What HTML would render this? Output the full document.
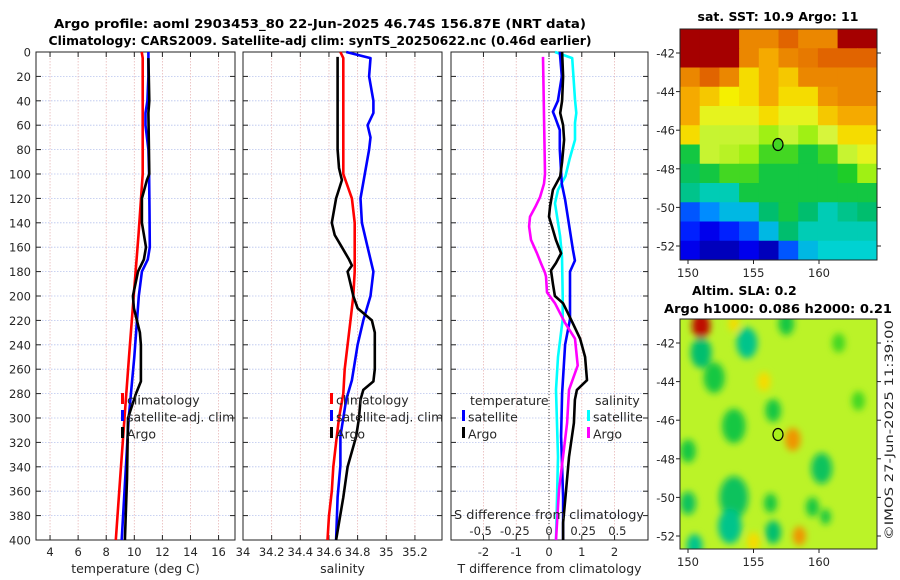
<!DOCTYPE html>
<html><head><meta charset="utf-8"><style>
html,body{margin:0;padding:0;background:#fff;}
svg{display:block;font-family:"DejaVu Sans","Liberation Sans",sans-serif;}
</style></head><body>
<svg id="fig" width="900" height="580" viewBox="0 0 900 580" xmlns="http://www.w3.org/2000/svg">
<defs>
<filter id="blur" x="-50%" y="-50%" width="200%" height="200%"><feGaussianBlur stdDeviation="3.5"/></filter>
<clipPath id="clipMap2"><rect x="680" y="319" width="197" height="230"/></clipPath>
</defs>
<text x="320" y="28" text-anchor="middle" font-size="12.5" font-weight="bold" textLength="532" lengthAdjust="spacingAndGlyphs">Argo profile: aoml 2903453_80 22-Jun-2025 46.74S 156.87E (NRT data)</text>
<text x="320" y="45" text-anchor="middle" font-size="12.5" font-weight="bold" textLength="543" lengthAdjust="spacingAndGlyphs">Climatology: CARS2009. Satellite-adj clim: synTS_20250622.nc (0.46d earlier)</text>
<g id="g1"></g>
<g id="g2"></g>
<g id="g3"></g>
<g id="m1"></g>
<g id="m2"></g>
<text x="778" y="21" text-anchor="middle" font-size="12.5" font-weight="bold">sat. SST: 10.9 Argo: 11</text>
<text x="692" y="295" font-size="12.5" font-weight="bold">Altim. SLA: 0.2</text>
<text x="778" y="313" text-anchor="middle" font-size="12.5" font-weight="bold" textLength="228" lengthAdjust="spacingAndGlyphs">Argo h1000: 0.086 h2000: 0.21</text>
<text transform="translate(893,430) rotate(-90)" text-anchor="middle" font-size="11.5" fill="#262626" textLength="220" lengthAdjust="spacingAndGlyphs">©IMOS 27-Jun-2025 11:39:00</text>
</svg>
<script>
// ---- data ----
const depthTicks=[0,20,40,60,80,100,120,140,160,180,200,220,240,260,280,300,320,340,360,380,400];
const tTicks=[4,6,8,10,12,14,16];
const sTicks=[34,34.2,34.4,34.6,34.8,35,35.2];
const dTTicks=[-2,-1,0,1,2];
const dSTicks=[-0.5,-0.25,0,0.25,0.5];
const dSTickLabels=["-0.5","-0.25","0","0.25","0.5"];

const tClimDepth=[0,5,20,50,100,150,200,250,300,350,400];
const tClimVal=[10.53,10.6,10.6,10.6,10.6,10.3,9.96,9.62,9.3,8.99,8.68];
const tSatDepth=[0,20,40,50,60,80,100,130,160,170,180,200,250,300,350,400];
const tSatVal=[11.0,11.0,10.93,10.8,10.8,11.0,11.05,11.08,11.1,10.96,10.54,10.32,10.0,9.6,9.35,9.1];
const tArgoDepth=[5,40,50,100,105,120,140,160,170,180,200,210,230,240,270,280,300,350,400];
const tArgoVal=[11.0,11.07,11.0,11.07,10.9,10.54,10.54,10.83,10.68,10.26,9.9,9.97,10.4,10.47,10.47,10.12,9.55,9.48,9.33];

const sClimDepth=[0,5,20,50,100,110,120,140,160,180,200,220,240,260,280,300,320,340,360,380,400];
const sClimVal=[34.68,34.70,34.70,34.70,34.70,34.73,34.76,34.78,34.78,34.78,34.77,34.75,34.73,34.71,34.70,34.67,34.65,34.63,34.62,34.60,34.59];
const sSatDepth=[0,5,20,40,50,60,70,80,100,120,140,160,180,200,220,240,269,285,315,339,365,400];
const sSatVal=[34.72,34.89,34.88,34.91,34.91,34.87,34.89,34.88,34.85,34.82,34.83,34.87,34.91,34.89,34.84,34.80,34.76,34.72,34.68,34.68,34.66,34.65];
const sArgoDepth=[4,20,40,60,80,95,100,105,120,140,150,160,170,175,180,190,200,210,220,230,240,260,270,277,285,300,315,340,365,400];
const sArgoVal=[34.66,34.66,34.66,34.66,34.66,34.67,34.68,34.69,34.65,34.62,34.64,34.69,34.74,34.76,34.73,34.75,34.77,34.80,34.90,34.92,34.92,34.92,34.91,34.84,34.82,34.81,34.79,34.73,34.70,34.65];

const dTSatDepth=[0,20,40,49,53,64,80,108,121,162,171,180,200,219,240,280,315,365,400];
const dTSatVal=[0.33,0.39,0.27,0.12,0.18,0.33,0.33,0.39,0.49,0.73,0.79,0.64,0.64,0.64,0.49,0.40,0.37,0.43,0.43];
const dTArgoDepth=[0,20,40,50,60,72,90,102,113,127,135,143,154,165,173,179,190,200,206,221,235,250,269,277,285,304,332,359,386,400];
const dTArgoVal=[0.40,0.43,0.40,0.34,0.43,0.46,0.40,0.34,0.12,0.03,0.0,0.09,0.21,0.37,0.21,0.06,0.12,0.18,0.43,0.70,0.95,1.10,1.16,0.85,0.79,0.76,0.61,0.52,0.43,0.43];
const dSSatDepth=[0,5,39,50,58,72,88,102,113,124,135,151,168,200,219,250,277,332,400];
const dSSatVal=[0.044,0.17,0.19,0.20,0.19,0.19,0.15,0.12,0.066,0.044,0.059,0.081,0.095,0.10,0.10,0.066,0.051,0.066,0.051];
const dSArgoDepth=[4,100,108,119,127,135,143,154,165,173,181,184,197,206,222,235,257,277,304,332,359,400];
const dSArgoVal=[-0.044,-0.029,-0.037,-0.066,-0.10,-0.139,-0.146,-0.132,-0.088,-0.059,-0.029,-0.022,-0.015,0.044,0.117,0.19,0.21,0.146,0.132,0.102,0.073,0.051];

const latTicks=[-42,-44,-46,-48,-50,-52];
const lonTicks=[150,155,160];
const sstGrid=[
[1,1,1,0.8,0.8,0.85,0.8,0.8,1,1],
[1,1,1,0.8,0.75,0.8,0.82,0.85,0.85,0.85],
[0.8,0.85,0.8,0.7,0.75,0.72,0.8,0.8,0.8,0.8],
[0.75,0.72,0.68,0.7,0.75,0.7,0.7,0.78,0.8,0.8],
[0.75,0.65,0.65,0.65,0.7,0.65,0.65,0.72,0.75,0.75],
[0.7,0.6,0.6,0.6,0.55,0.6,0.55,0.62,0.7,0.7],
[0.45,0.6,0.58,0.55,0.5,0.5,0.45,0.5,0.6,0.65],
[0.42,0.45,0.5,0.5,0.45,0.45,0.45,0.45,0.48,0.55],
[0.38,0.35,0.35,0.45,0.45,0.45,0.45,0.45,0.45,0.45],
[0.2,0.25,0.3,0.3,0.4,0.45,0.4,0.35,0.38,0.4],
[0.15,0.1,0.15,0.2,0.3,0.4,0.35,0.35,0.35,0.35],
[0.1,0.05,0.05,0.1,0.05,0.2,0.3,0.33,0.33,0.33]];
const slaBase=0.585;
const slaBlobLon=[151,154.5,151,152,156.5,153.5,150,160.2,153.5,153.2,150,156.5,156.3,159.5,160.5,150.5,157.5,161.5,163,158,158.5,155.8,155,153.5];
const slaBlobLat=[-41.1,-42,-42.5,-43.8,-45.5,-46.3,-47.6,-48.5,-50,-51.5,-50.3,-51.8,-50.3,-50.5,-51,-52.5,-41,-42,-45,-47,-52,-44,-52.3,-41];
const slaBlobVal=[0.95,0.38,0.4,0.45,0.45,0.45,0.45,0.42,0.42,0.38,0.42,0.4,0.45,0.45,0.45,0.38,0.45,0.5,0.5,0.78,0.78,0.7,0.7,0.7];
const slaBlobR=[0.7,0.8,0.8,0.8,0.6,0.9,0.6,0.8,1.1,0.9,0.6,0.6,0.5,0.5,0.4,0.6,0.6,0.5,0.5,0.6,0.5,0.5,0.5,0.4];
const argoLon=156.87, argoLat=-46.74;

// ---- helpers ----
const NS="http://www.w3.org/2000/svg";
function mk(parent,tag,attrs){const e=document.createElementNS(NS,tag);for(const k in attrs)e.setAttribute(k,attrs[k]);parent.appendChild(e);return e;}
const TOP=52,BOT=540;
function yD(d){return TOP+(d-0)*(BOT-TOP)/400;}
const cmStops=[[0,[0,0,140]],[0.12,[0,0,255]],[0.25,[0,140,255]],[0.33,[0,210,210]],[0.4,[0,190,110]],[0.48,[30,205,40]],[0.55,[160,240,20]],[0.62,[215,245,60]],[0.68,[245,240,0]],[0.75,[245,170,0]],[0.85,[225,100,0]],[0.92,[205,20,0]],[1,[165,0,0]]];
function jet(v){v=Math.max(0,Math.min(1,v));
 for(let i=1;i<cmStops.length;i++){if(v<=cmStops[i][0]){const a=cmStops[i-1],b=cmStops[i];const f=(v-a[0])/(b[0]-a[0]);
  return 'rgb('+a[1].map((c,k)=>Math.round(c+(b[1][k]-c)*f)).join(',')+')';}}
 return 'rgb(165,0,0)';}

function panel(g,x0,x1,xmin,xmax,ticks,labels,showY,xlabel){
 const sx=v=>x0+(v-xmin)*(x1-x0)/(xmax-xmin);
 for(const d of depthTicks){const l=mk(g,'line',{x1:x0,x2:x1,y1:yD(d),y2:yD(d),stroke:'#b8c4ee','stroke-width':0.8,'stroke-dasharray':'1.5,1.5'});
  
  
  mk(g,'line',{x1:x0,x2:x0+5,y1:yD(d),y2:yD(d),stroke:'#222'});mk(g,'line',{x1:x1-5,x2:x1,y1:yD(d),y2:yD(d),stroke:'#222'});
  if(showY){const t=mk(g,'text',{x:x0-5,y:yD(d)+4.5,'text-anchor':'end','font-size':11.5,fill:'#262626'});t.textContent=d;
   
   }}
 ticks.forEach((v,i)=>{const x=sx(v);
  const l=mk(g,'line',{x1:x,x2:x,y1:TOP,y2:BOT,stroke:'#e8b8b8','stroke-width':0.8,'stroke-dasharray':'1.5,1.5'});
  
  
  mk(g,'line',{x1:x,x2:x,y1:BOT,y2:BOT-5,stroke:'#222'});mk(g,'line',{x1:x,x2:x,y1:TOP,y2:TOP+5,stroke:'#222'});
  const t=mk(g,'text',{x:x,y:BOT+16,'text-anchor':'middle','font-size':11.5,fill:'#262626'});t.textContent=labels[i];
  
  });
 const fr=mk(g,'rect',{x:x0,y:TOP,width:x1-x0,height:BOT-TOP,fill:'none',stroke:'#222','stroke-width':1});
 
 
 const xl=mk(g,'text',{x:(x0+x1)/2,y:BOT+33,'text-anchor':'middle','font-size':12.5,fill:'#262626'});xl.textContent=xlabel;
 
 
 return sx;}
function series(g,sx,depths,vals,color,name){
 const pts=depths.map((d,i)=>sx(vals[i]).toFixed(1)+','+yD(d).toFixed(1)).join(' ');
 const p=mk(g,'polyline',{points:pts,fill:'none',stroke:color,'stroke-width':2.6,'stroke-linejoin':'round'});
 
 }
function legend(g,x,y,color,label,name){
 mk(g,'rect',{x:x,y:y-7,width:3,height:11,fill:color});
 const t=mk(g,'text',{x:x+6,y:y+4.5,'font-size':12.5,fill:'#262626'});t.textContent=label;
 
 }

// panel 1
const g1=document.getElementById('g1');
const sx1=panel(g1,36,235,3,17.17,tTicks,tTicks.map(String),true,'temperature (deg C)');
series(g1,sx1,tClimDepth,tClimVal,'#f00','temp-climatology-line');
series(g1,sx1,tSatDepth,tSatVal,'#00f','temp-satellite-line');
series(g1,sx1,tArgoDepth,tArgoVal,'#000','temp-argo-line');
legend(g1,121,400,'#f00','climatology','legend-climatology');
legend(g1,121,417,'#00f','satellite-adj. clim','legend-satellite');
legend(g1,121,434,'#000','Argo','legend-argo');
// panel 2
const g2=document.getElementById('g2');
const sx2=panel(g2,243,442,34,35.389,sTicks,sTicks.map(String),false,'salinity');
series(g2,sx2,sClimDepth,sClimVal,'#f00','sal-climatology-line');
series(g2,sx2,sSatDepth,sSatVal,'#00f','sal-satellite-line');
series(g2,sx2,sArgoDepth,sArgoVal,'#000','sal-argo-line');
legend(g2,330,400,'#f00','climatology','legend-climatology');
legend(g2,330,417,'#00f','satellite-adj. clim','legend-satellite');
legend(g2,330,434,'#000','Argo','legend-argo');
// panel 3
const g3=document.getElementById('g3');
const sx3=panel(g3,451,648,-2.99,3.02,dTTicks,dTTicks.map(String),false,'T difference from climatology');
const sxS=v=>sx3(0)+v*136.7;
const z=mk(g3,'line',{x1:sx3(0),x2:sx3(0),y1:TOP,y2:BOT,stroke:'#333','stroke-width':1,'stroke-dasharray':'1,2'});


series(g3,sxS,dSSatDepth,dSSatVal,'#0ff','sdiff-satellite-line');
series(g3,sx3,dTSatDepth,dTSatVal,'#00f','tdiff-satellite-line');
series(g3,sx3,dTArgoDepth,dTArgoVal,'#000','tdiff-argo-line');
series(g3,sxS,dSArgoDepth,dSArgoVal,'#f0f','sdiff-argo-line');
const st=mk(g3,'text',{x:549,y:519,'text-anchor':'middle','font-size':12.5,fill:'#262626',textLength:190,lengthAdjust:'spacingAndGlyphs'});st.textContent='S difference from climatology';


dSTicks.forEach((v,i)=>{const t=mk(g3,'text',{x:sxS(v),y:535,'text-anchor':'middle','font-size':11.5,fill:'#262626'});t.textContent=dSTickLabels[i];
 
 });
const lt=mk(g3,'text',{x:470,y:405,'font-size':12.5,fill:'#262626'});lt.textContent='temperature';


const ls=mk(g3,'text',{x:595,y:405,'font-size':12.5,fill:'#262626'});ls.textContent='salinity';


legend(g3,462,417,'#00f','satellite','legend-t-satellite');
legend(g3,462,434,'#000','Argo','legend-t-argo');
legend(g3,587,417,'#0ff','satellite','legend-s-satellite');
legend(g3,587,434,'#f0f','Argo','legend-s-argo');

// maps
const MX0=680,MX1=877;
const lonX=lon=>688+(lon-150)*13.1;
function mapAxes(g,yTop,yBot,latY){
 lonTicks.forEach(l=>{const x=lonX(l);mk(g,'line',{x1:x,x2:x,y1:yBot,y2:yBot+4,stroke:'#222'});
  const t=mk(g,'text',{x:x,y:yBot+17,'text-anchor':'middle','font-size':11.5,fill:'#262626'});t.textContent=l;
  
  });
 latTicks.forEach(l=>{const y=latY(l);mk(g,'line',{x1:MX0-4,x2:MX0,y1:y,y2:y,stroke:'#222'});mk(g,'line',{x1:MX1,x2:MX1+4,y1:y,y2:y,stroke:'#222'});
  const t=mk(g,'text',{x:MX0-5,y:y+4.5,'text-anchor':'end','font-size':11.5,fill:'#262626'});t.textContent=l;
  
  });
 const f=mk(g,'rect',{x:MX0,y:yTop,width:MX1-MX0,height:yBot-yTop,fill:'none',stroke:'#222'});
 
 }
// SST map
const m1=document.getElementById('m1');
const y1T=29,y1B=260;const lat1=l=>53+(-42-l)*19.3;
const cw=(MX1-MX0)/sstGrid[0].length,ch=(y1B-y1T)/sstGrid.length;
sstGrid.forEach((row,r)=>row.forEach((v,c)=>{
 const cell=mk(m1,'rect',{x:MX0+c*cw,y:y1T+r*ch,width:cw+0.5,height:ch+0.5,fill:jet(v)});
 
 }));
mapAxes(m1,y1T,y1B,lat1);
const a1=mk(m1,'ellipse',{cx:lonX(argoLon),cy:lat1(argoLat),rx:5,ry:6,fill:jet(0.5),stroke:'#000','stroke-width':1.2});


// SLA map
const m2=document.getElementById('m2');
const y2T=319,y2B=549;const lat2=l=>343+(-42-l)*19.3;
const cg=mk(m2,'g',{'clip-path':'url(#clipMap2)'});
mk(cg,'rect',{x:MX0,y:y2T,width:MX1-MX0,height:y2B-y2T,fill:jet(slaBase)});
const bg=mk(cg,'g',{filter:'url(#blur)'});
slaBlobLon.forEach((lon,i)=>{const b=mk(bg,'ellipse',{cx:lonX(lon),cy:lat2(slaBlobLat[i]),rx:slaBlobR[i]*13.1,ry:slaBlobR[i]*19.3,fill:jet(slaBlobVal[i])});
 
 });
mapAxes(m2,y2T,y2B,lat2);
const a2=mk(m2,'ellipse',{cx:lonX(argoLon),cy:lat2(argoLat),rx:5,ry:6,fill:jet(0.56),stroke:'#000','stroke-width':1.2});


</script>
</body></html>
